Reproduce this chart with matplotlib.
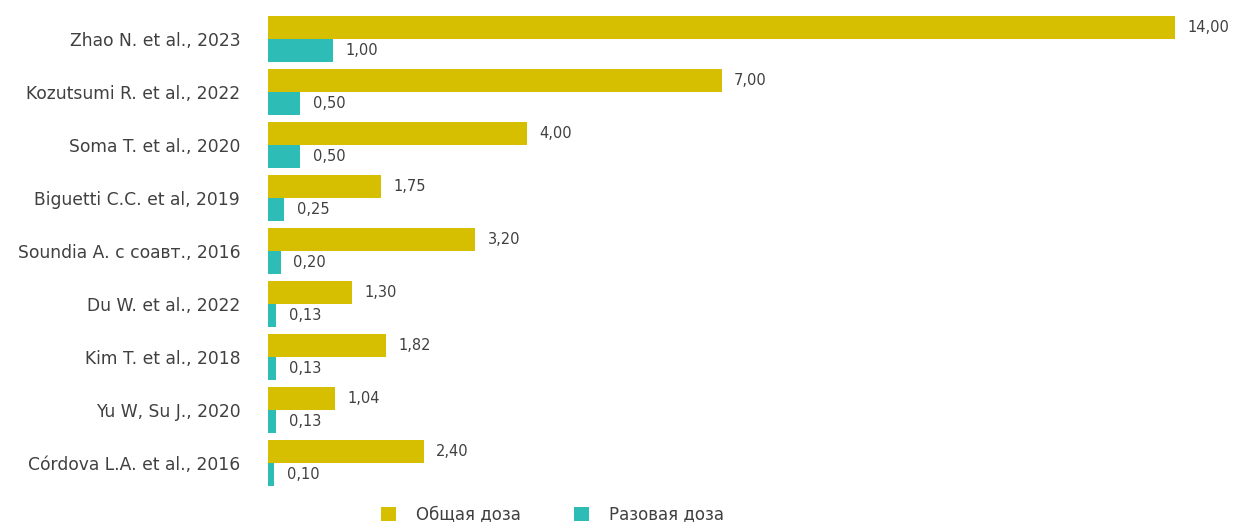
import numpy as np
import matplotlib.pyplot as plt

# studies and doses
studies = ["Zhao N. et al., 2023", "Kozutsumi R. et al., 2022", "Soma T. et al., 2020",
           "Biguetti C.C. et al, 2019", "Soundia A. с соавт., 2016", "Du W. et al., 2022",
           "Kim T. et al., 2018", "Yu W, Su J., 2020", "Córdova L.A. et al., 2016"]
total_dose = [14.00, 7.00, 4.00, 1.75, 3.20, 1.30, 1.82, 1.04, 2.40]
single_dose = [1.00, 0.50, 0.50, 0.25, 0.20, 0.13, 0.13, 0.13, 0.10]
series_names = ["Общая доза", "Разовая доза"]

gold = "#D6BF00"
teal = "#2EBDB6"
txt = "#404040"

plt.rcParams['font.family'] = ['DejaVu Sans']

fig = plt.figure(figsize=(12.36, 5.22), dpi=100)
ax = fig.add_axes([268/1236, 1 - 489.5/522, 1 - 268/1236 - 0.023, (489.5 - 12.5)/522])

y = np.arange(len(studies))
h = 0.425
b1 = ax.barh(y - h/2, total_dose, height=h, color=gold, label=series_names[0])
b2 = ax.barh(y + h/2, single_dose, height=h, color=teal, label=series_names[1])

def fmt(v):
    return f"{v:.2f}".replace(".", ",")

for bars, vals in ((b1, total_dose), (b2, single_dose)):
    for bar, v in zip(bars, vals):
        ax.annotate(fmt(v), (bar.get_width(), bar.get_y() + bar.get_height()/2),
                    xytext=(9, 0), textcoords='offset points', va='center', ha='left',
                    fontsize=10.5, color=txt)

ax.set_xlim(0, 14.5)
ax.set_ylim(len(studies) - 0.5, -0.5)
ax.set_yticks(y)
ax.set_yticklabels(studies, fontsize=12.3, color=txt)
ax.tick_params(axis='y', length=0, pad=20)
ax.set_xticks([])
for s in ax.spines.values():
    s.set_visible(False)

fig.legend(handles=[b1, b2], labels=series_names, loc='center', bbox_to_anchor=(0.447, 0.014),
           ncol=2, frameon=False, fontsize=12, labelcolor=txt, handlelength=0.9,
           handleheight=0.9, handletextpad=1.2, columnspacing=3.2)

plt.savefig('out.png', dpi=100)
